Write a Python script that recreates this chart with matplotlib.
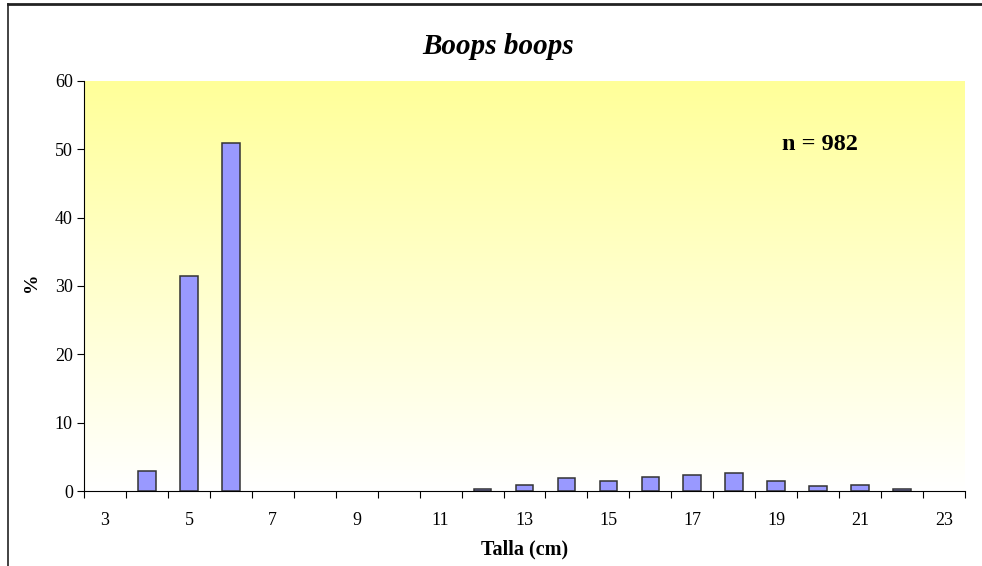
import numpy as np
import matplotlib.pyplot as plt
from matplotlib.colors import LinearSegmentedColormap

# Size classes (cm) and percentage of fish in each
tallas = list(range(3, 24))
porcentaje = [0, 2.9, 31.4, 50.9, 0, 0, 0, 0, 0, 0.25, 0.93, 1.96, 1.5, 2.1,
              2.4, 2.7, 1.4, 0.8, 0.93, 0.25, 0]
tick_labels = [str(t) for t in tallas if t % 2 == 1]

plt.rcParams['font.family'] = ['Liberation Serif', 'DejaVu Serif']

fig = plt.figure(figsize=(9.82, 5.66), dpi=100)
ax = fig.add_axes([84 / 982, 75 / 566, 881 / 982, 410 / 566])

# yellow-to-white gradient background like the Excel plot area
grad = LinearSegmentedColormap.from_list('yw', ['#FFFFFF', '#FFFF99'])
ax.imshow(np.linspace(0, 1, 256).reshape(-1, 1), cmap=grad, aspect='auto',
          extent=(-0.5, len(tallas) - 0.5, 0, 60), origin='lower', zorder=0)

x = np.arange(len(tallas))
# empty classes get no outline (Excel draws nothing there)
lw = [1.1 if v > 0 else 0 for v in porcentaje]
ax.bar(x, porcentaje, width=0.42, color='#9999FF', edgecolor='#333333',
       linewidth=lw, zorder=2)

ax.set_xlim(-0.5, len(tallas) - 0.5)
ax.set_ylim(0, 60)
ax.set_yticks(range(0, 61, 10))
ax.tick_params(axis='y', labelsize=13, direction='out', length=5, width=0.8,
               pad=3)

# category boundaries get tick marks, odd sizes get labels
ax.set_xticks(np.arange(-0.5, len(tallas) - 0.4, 1))
ax.set_xticklabels([])
ax.set_xticks([i for i, t in enumerate(tallas) if t % 2 == 1], minor=True)
ax.set_xticklabels(tick_labels, minor=True)
ax.tick_params(axis='x', which='major', direction='out', length=5, width=0.8)
ax.tick_params(axis='x', which='minor', length=0, labelsize=13, pad=15)

for s in ['top', 'right']:
    ax.spines[s].set_visible(False)
ax.spines['left'].set_linewidth(0.8)
ax.spines['bottom'].set_linewidth(0.8)

ax.set_xlabel('Talla (cm)', fontsize=14.5, fontweight='bold', labelpad=8)
ax.set_ylabel('%', fontsize=14, fontweight='bold')
ax.yaxis.set_label_coords(-0.05, 0.51)
fig.text(498 / 982, 1 - 47 / 566, 'Boops boops', ha='center', va='center',
         fontsize=21, fontweight='bold', fontstyle='italic')
ax.text(0.835, 0.844, 'n = 982', transform=ax.transAxes, ha='center',
        va='center', fontsize=17.5, fontweight='bold')

# partial chart-area frame (top and left edges only)
fig.add_artist(plt.Line2D([8 / 982, 1], [1 - 4 / 566, 1 - 4 / 566],
                          color='#222222', linewidth=2))
fig.add_artist(plt.Line2D([8 / 982, 8 / 982], [0, 1 - 4 / 566],
                          color='#222222', linewidth=1.2))

fig.savefig('out.png', dpi=100)
